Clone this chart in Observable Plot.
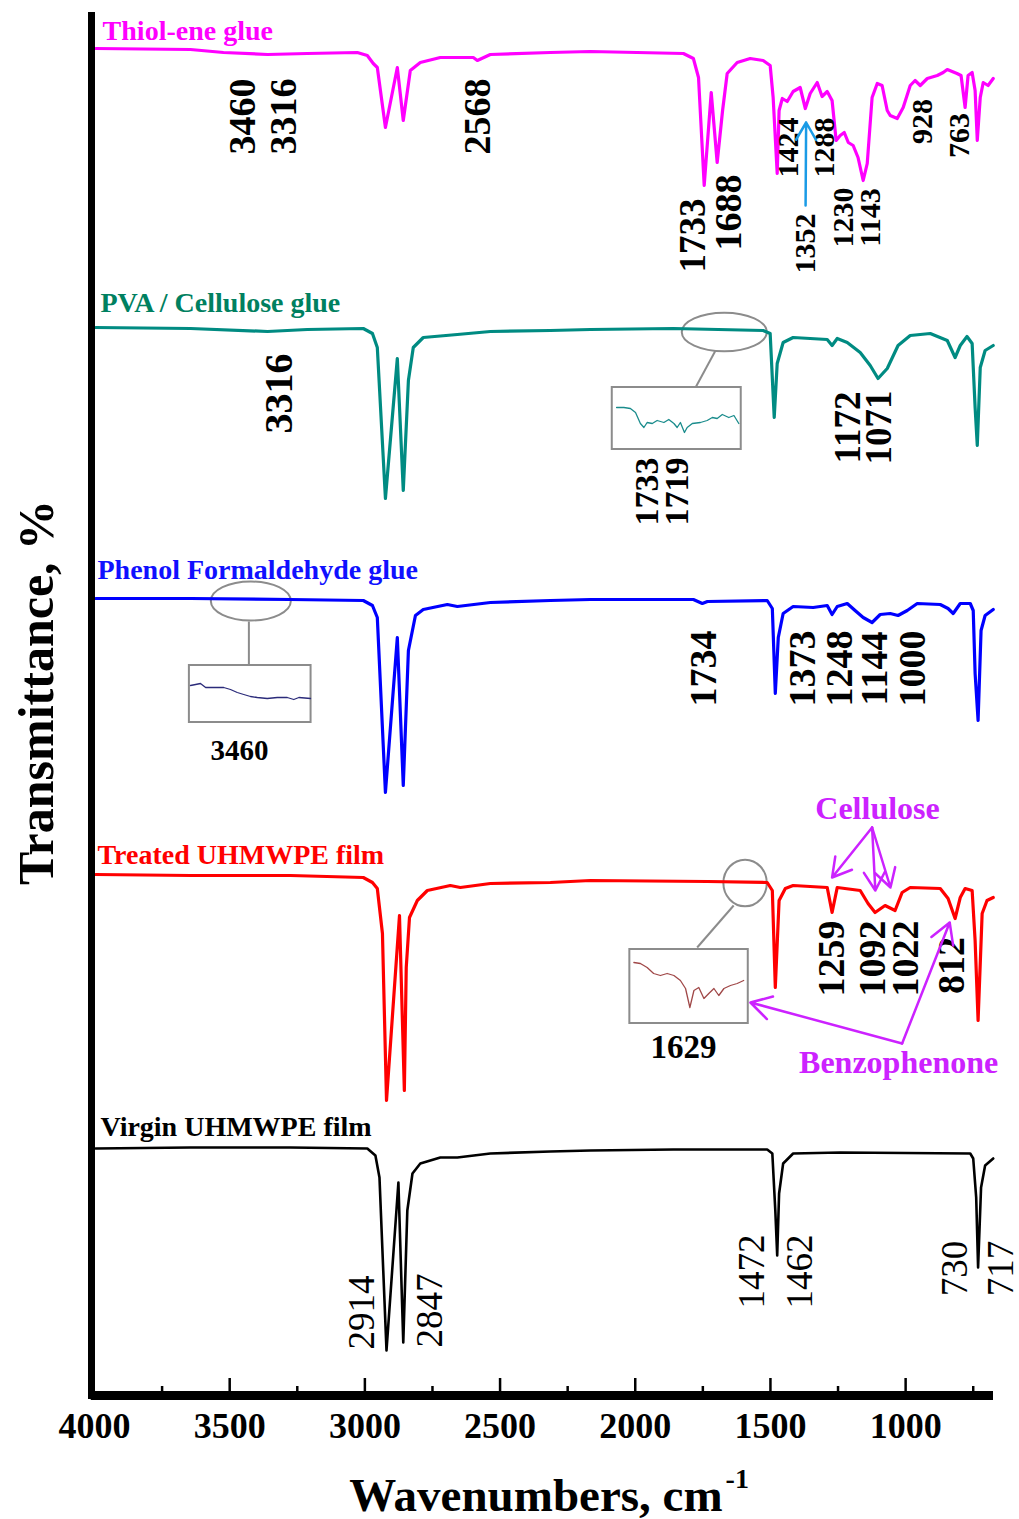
<!DOCTYPE html>
<html><head><meta charset="utf-8">
<script src="https://cdn.jsdelivr.net/npm/d3@7"></script>
<script src="https://cdn.jsdelivr.net/npm/@observablehq/plot@0.6"></script>
<style>body{margin:0;background:#fff}</style>
</head><body><div id="chart"></div>
<script>
// ---- Spectra: [wavenumber (cm-1), transmittance (stacked, a.u.)] ----
const thiol = [[3996,1347],[3645,1346],[3523,1343],[3360,1341],[3213,1342],[3028,1343],[2991,1340],[2969,1332],[2954,1328],[2924,1268],[2880,1328],[2858,1275],[2832,1325],[2795,1333],[2721,1338],[2599,1338],[2584,1335],[2536,1341],[2314,1343],[2166,1344],[1822,1342],[1785,1337],[1766,1318],[1745,1210],[1719,1303],[1697,1233],[1677,1285],[1660,1322],[1623,1333],[1575,1337],[1527,1335],[1501,1330],[1490,1298],[1475,1222],[1468,1285],[1456,1297],[1438,1294],[1416,1304],[1390,1308],[1371,1287],[1353,1302],[1327,1313],[1309,1299],[1290,1304],[1272,1295],[1257,1255],[1242,1260],[1227,1263],[1212,1253],[1194,1250],[1176,1238],[1157,1215],[1142,1232],[1124,1298],[1105,1312],[1087,1310],[1068,1285],[1057,1280],[1031,1277],[1009,1288],[983,1310],[965,1315],[946,1310],[920,1317],[883,1320],[861,1323],[846,1326],[810,1322],[795,1320],[780,1288],[769,1320],[754,1323],[743,1305],[735,1255],[724,1298],[713,1313],[695,1310],[676,1317]];
const pva = [[3996,1068],[3645,1067],[3360,1064],[3213,1066],[3006,1067],[2972,1062],[2954,1048],[2924,897],[2880,1037],[2858,905],[2839,1015],[2821,1048],[2784,1058],[2658,1061],[2536,1064],[2314,1065],[2166,1066],[1859,1067],[1527,1065],[1501,1062],[1486,978],[1475,1032],[1453,1053],[1416,1058],[1290,1056],[1272,1050],[1253,1057],[1216,1053],[1168,1043],[1131,1030],[1102,1017],[1068,1027],[1028,1050],[983,1060],[909,1062],[846,1055],[817,1038],[798,1050],[773,1059],[754,1052],[743,988],[735,950],[724,1028],[706,1045],[676,1050]];
const phenol = [[3996,797],[3645,797],[3275,796],[3006,795],[2972,790],[2954,778],[2924,603],[2880,758],[2858,610],[2839,745],[2813,780],[2784,786],[2695,791],[2658,789],[2536,793],[2314,795],[2166,796],[1785,796],[1752,792],[1733,794],[1512,795],[1493,787],[1482,702],[1471,758],[1453,782],[1416,789],[1342,788],[1290,790],[1272,781],[1253,789],[1216,792],[1187,785],[1157,778],[1124,773],[1094,781],[1057,782],[1028,780],[994,785],[957,792],[872,791],[843,787],[824,782],[798,792],[761,792],[750,785],[743,722],[732,675],[721,765],[706,780],[676,786]];
const treated = [[3996,521],[3645,520],[3275,520],[3006,518],[2972,513],[2954,507],[2935,462],[2920,295],[2872,480],[2854,305],[2847,428],[2835,478],[2806,495],[2769,505],[2684,510],[2647,508],[2536,512],[2314,513],[2166,515],[1733,514],[1512,513],[1493,505],[1482,408],[1468,495],[1445,507],[1416,510],[1290,508],[1272,483],[1253,508],[1168,505],[1139,492],[1113,483],[1076,490],[1039,485],[1013,503],[983,508],[872,507],[843,497],[817,477],[798,498],[780,507],[754,505],[743,455],[732,375],[717,482],[699,495],[676,498]];
const virgin = [[3996,247],[3645,248],[3275,248],[2991,247],[2961,240],[2946,218],[2920,45],[2876,213],[2858,53],[2843,185],[2824,222],[2795,232],[2721,238],[2658,238],[2536,242],[2314,244],[2166,245],[1859,246],[1512,246],[1493,242],[1482,185],[1475,140],[1468,202],[1453,232],[1416,242],[1242,243],[761,242],[750,237],[739,198],[732,128],[721,208],[706,230],[676,237]];

// ---- Zoomed inset traces ----
const pvaInset = [[2069,988],[2042,988],[2018,987],[1999,983],[1981,972],[1968,968],[1956,973],[1937,972],[1919,975],[1894,973],[1876,976],[1857,972],[1845,968],[1833,973],[1818,963],[1808,968],[1789,972],[1759,973],[1734,975],[1715,978],[1697,977],[1678,981],[1654,978],[1635,980],[1617,972]];
const phenolInset = [[3645,710],[3626,711],[3608,712],[3589,708],[3559,708],[3522,708],[3497,706],[3472,703],[3448,701],[3423,699],[3398,698],[3361,697],[3324,698],[3287,698],[3263,696],[3244,698],[3201,697]];
const treatedInset = [[2005,433],[1981,432],[1956,428],[1932,422],[1907,420],[1882,422],[1857,420],[1833,415],[1814,407],[1798,388],[1783,405],[1765,408],[1746,397],[1728,402],[1709,407],[1691,400],[1672,407],[1648,410],[1623,412],[1599,415]];

// ---- Axis ticks ----
const majorTicks = [3500, 3000, 2500, 2000, 1500, 1000];
const minorTicks = [3750, 3250, 2750, 2250, 1750, 1250, 750];
const tickLabels = [4000, 3500, 3000, 2500, 2000, 1500, 1000];

// ---- Series names ----
const seriesNames = ["Thiol-ene glue", "PVA / Cellulose glue", "Phenol Formaldehyde glue", "Treated UHMWPE film", "Virgin UHMWPE film"];

// ---- Peak labels ----
const thiolPeaks = ["3460","3316","2568","1733","1688","1424","1288","1352","1230","1143","928","763"];
const pvaPeaks = ["3316","1172","1071","1733","1719"];
const phenolPeaks = ["1734","1373","1248","1144","1000"];
const treatedPeaks = ["1259","1092","1022","812"];
const virginPeaks = ["2914","2847","1472","1462","730","717"];

// ---- annotation anchors (data units) ----
const thiolPeakAt = [[3453,1279],[3301,1279],[2583,1279],[1785,1160],[1655,1183],[1433,1248],[1300,1248],[1370,1152],[1230,1178],[1130,1178],[938,1274],[801,1260]];
const thiolPeakSize = [38,38,38,37,38,30,30,30,30,30,30,30];
const pvaPeakAt = [[3316,1002],[1211,968],[1097,968],[1955,904],[1847,904]];
const pvaPeakSize = [40,37,37,34,34];
const phenolPeakAt = [[1748,727],[1381,727],[1245,727],[1115,727],[975,727]];
const treatedPeakAt = [[1274,437],[1123,437],[1001,437],[830,430]];
const virginPeakAt = [[3009,83],[2757,85],[1566,124],[1389,124],[816,127],[646,127]];
const titleAt = [[3970,1356],[3978,1084],[3989,817],[3989,532],[3978,260]];

const FONT = "'Liberation Serif', 'Times New Roman', serif";
const colors = ["#ff00ff", "#008b82", "#0000ff", "#ff0000", "#000000"];
const titleColors = ["#ff00ff", "#008060", "#1010ff", "#ff0000", "#000000"];
const spectra = [thiol, pva, phenol, treated, virgin];

const rows = spectra.flatMap((s, i) => s.map(([wn, t]) => ({series: seriesNames[i], wn, t})));
const toLabels = (names, at, size, weight) => names.map((label, i) => ({label, wn: at[i][0], v: at[i][1], size: Array.isArray(size) ? size[i] : size, weight}));
const peakLabels = [
  ...toLabels(thiolPeaks, thiolPeakAt, thiolPeakSize, "bold"),
  ...toLabels(pvaPeaks, pvaPeakAt, pvaPeakSize, "bold"),
  ...toLabels(phenolPeaks, phenolPeakAt, 38, "bold"),
  ...toLabels(treatedPeaks, treatedPeakAt, 38, "bold"),
];
const virginLabels = toLabels(virginPeaks, virginPeakAt, 37, "normal");
const titles = seriesNames.map((name, i) => ({name, wn: titleAt[i][0], v: titleAt[i][1], color: titleColors[i]}));

const insetBoxes = [
  {x1: 2085, x2: 1608, y1: 1008, y2: 946},
  {x1: 3649, x2: 3199, y1: 730, y2: 673},
  {x1: 2020, x2: 1582, y1: 446, y2: 372}
];
const connectors = [
  {x1: 1703, y1: 1045, x2: 1777, y2: 1008},
  {x1: 3429, y1: 774, x2: 3429, y2: 730},
  {x1: 1636, y1: 490, x2: 1771, y2: 448}
];
const ellipseAnn = [
  {wn: 1669, v: 1063, rx: 42.5, ry: 19.3},
  {wn: 3420, v: 794, rx: 40, ry: 19.5},
  {wn: 1592, v: 512, rx: 21.7, ry: 23.3}
];
const violet = "#cc22ff";
const cellArrows = [
  {x1: 1124, y1: 568, x2: 1272, y2: 518},
  {x1: 1124, y1: 568, x2: 1112, y2: 505},
  {x1: 1124, y1: 568, x2: 1056, y2: 508}
];
const benzArrows = [
  {x1: 1013, y1: 352, x2: 1574, y2: 393},
  {x1: 1013, y1: 352, x2: 837, y2: 473}
];
const blueArrow = [{x1: 1370, y1: 1190, x2: 1368, y2: 1273}];

const ellipses = (index, scales) => {
  const g = d3.create("svg:g").attr("fill", "none").attr("stroke", "#8c8c8c").attr("stroke-width", 2);
  for (const e of ellipseAnn) {
    g.append("ellipse").attr("cx", scales.x(e.wn)).attr("cy", scales.y(e.v)).attr("rx", e.rx).attr("ry", e.ry);
  }
  return g.node();
};

const chart = Plot.plot({
  width: 1019,
  height: 1519,
  marginTop: 15,
  marginBottom: 124,
  marginLeft: 94,
  marginRight: 26,
  x: {domain: [4000, 675], axis: null},
  y: {domain: [0, 1380], axis: null},
  style: {fontFamily: FONT, background: "#ffffff", overflow: "visible"},
  marks: [
    // inset boxes & annotations
    Plot.rect(insetBoxes, {x1: "x1", x2: "x2", y1: "y1", y2: "y2", fill: "white", stroke: "#8c8c8c", strokeWidth: 2}),
    Plot.link(connectors, {x1: "x1", y1: "y1", x2: "x2", y2: "y2", stroke: "#8c8c8c", strokeWidth: 2}),
    ellipses,
    Plot.line(pvaInset, {x: d => d[0], y: d => d[1], stroke: "#1a8c8c", strokeWidth: 1.3}),
    Plot.line(phenolInset, {x: d => d[0], y: d => d[1], stroke: "#2b2b7a", strokeWidth: 1.3}),
    Plot.line(treatedInset, {x: d => d[0], y: d => d[1], stroke: "#a04848", strokeWidth: 1.3}),
    // spectra
    ...seriesNames.map((name, i) => Plot.line(rows.filter(r => r.series === name), {
      x: "wn", y: "t", stroke: colors[i], strokeWidth: i === 4 ? 2.6 : 3.2, strokeLinejoin: "round"
    })),
    // axes
    Plot.ruleY([0], {x1: 4012, x2: 675, stroke: "black", strokeWidth: 9}),
    Plot.ruleX([4000], {y1: -4, y2: 1383, stroke: "black", strokeWidth: 7, dx: -3}),
    Plot.ruleX(majorTicks, {y1: 0, y2: 17, stroke: "black", strokeWidth: 2.5}),
    Plot.ruleX(minorTicks, {y1: 0, y2: 9, stroke: "black", strokeWidth: 2.5}),
    Plot.text(tickLabels, {x: d => d, y: -42, text: d => String(d), lineAnchor: "bottom", fontSize: 36, fontWeight: "bold", fill: "black"}),
    Plot.text(["Wavenumbers, cm"], {x: 1677, y: -115, textAnchor: "end", lineAnchor: "bottom", fontSize: 47, fontWeight: "bold", fill: "black"}),
    Plot.text(["-1"], {x: 1666, y: -92, textAnchor: "start", lineAnchor: "bottom", fontSize: 28, fontWeight: "bold", fill: "black"}),
    Plot.text(["Transmittance, %"], {x: 4211, y: 703, rotate: -90, fontSize: 50, fontWeight: "bold", fill: "black"}),
    // series titles
    Plot.text(titles, {x: "wn", y: "v", text: "name", fill: "color", textAnchor: "start", lineAnchor: "bottom", fontSize: 28, fontWeight: "bold"}),
    // peak labels
    Plot.text(peakLabels, {x: "wn", y: "v", text: "label", rotate: -90, fontSize: "size", fontWeight: "bold", fill: "black"}),
    Plot.text(virginLabels, {x: "wn", y: "v", text: "label", rotate: -90, fontSize: 37, fill: "black"}),
    Plot.text(["3460"], {x: 3464, y: 645, fontSize: 29, fontWeight: "bold", fill: "black"}),
    Plot.text(["1629"], {x: 1822, y: 348, fontSize: 33, fontWeight: "bold", fill: "black"}),
    // arrows
    Plot.arrow(blueArrow, {x1: "x1", y1: "y1", x2: "x2", y2: "y2", stroke: "#1a9be6", strokeWidth: 2.5, headLength: 12}),
    Plot.arrow(cellArrows, {x1: "x1", y1: "y1", x2: "x2", y2: "y2", stroke: violet, strokeWidth: 2.5, headLength: 14}),
    Plot.arrow(benzArrows, {x1: "x1", y1: "y1", x2: "x2", y2: "y2", stroke: violet, strokeWidth: 2.5, headLength: 14}),
    Plot.text(["Cellulose"], {x: 1104, y: 587, fontSize: 32, fontWeight: "bold", fill: violet}),
    Plot.text(["Benzophenone"], {x: 1026, y: 333, fontSize: 32, fontWeight: "bold", fill: violet})
  ]
});
document.getElementById("chart").appendChild(chart);
</script>
</body></html>
